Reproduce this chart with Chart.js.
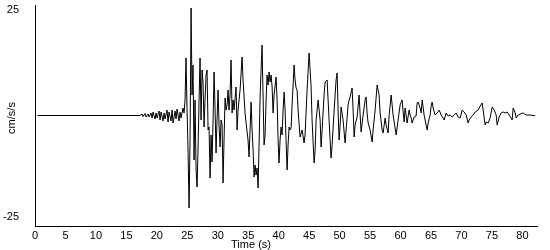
<!DOCTYPE html>
<html>
<head>
<meta charset="utf-8">
<script src="https://cdn.jsdelivr.net/npm/chart.js@4.4.1/dist/chart.umd.min.js"></script>
<style>
  html, body { margin: 0; padding: 0; background: #fff; }
  canvas { display: block; }
</style>
</head>
<body>
<canvas id="quake" width="550" height="250"></canvas>
<script>
// time (s) and acceleration (cm/s/s)
let times = [
  0.4, 17.24, 17.57, 17.73, 18.06, 18.23, 18.55, 18.72, 19.05, 19.21, 19.38, 19.70, 19.87, 20.03, 20.36, 20.53,
  20.69, 21.02, 21.18, 21.35, 21.67, 21.84, 22.00, 22.33, 22.50, 22.66, 22.99, 23.15, 23.32, 23.64, 23.81, 23.97,
  24.30, 24.47, 24.63, 24.79, 24.96, 25.12, 25.29, 25.45, 25.62, 25.78, 25.94, 26.11, 26.27, 26.44, 26.60, 26.76,
  26.93, 27.09, 27.26, 27.42, 27.59, 27.75, 27.91, 28.08, 28.24, 28.41, 28.57, 28.74, 28.90, 29.06, 29.23, 29.39,
  29.56, 29.72, 29.88, 30.05, 30.21, 30.38, 30.54, 30.71, 30.87, 31.03, 31.20, 31.36, 31.53, 31.69, 31.85, 32.02,
  32.18, 32.35, 32.51, 32.68, 33.00, 33.17, 33.33, 33.66, 33.99, 34.15, 34.48, 34.65, 34.97, 35.14, 35.30, 35.47,
  35.63, 35.80, 35.96, 36.12, 36.29, 36.45, 36.62, 36.78, 36.95, 37.11, 37.27, 37.44, 37.60, 37.77, 37.93, 38.09,
  38.26, 38.42, 38.59, 38.75, 38.92, 39.08, 39.24, 39.57, 39.74, 39.90, 40.06, 40.23, 40.39, 40.56, 40.72, 40.89,
  41.05, 41.21, 41.38, 41.54, 41.71, 41.87, 42.04, 42.20, 42.53, 42.69, 42.86, 43.02, 43.18, 43.51, 43.84, 44.17,
  44.33, 44.66, 44.99, 45.16, 45.32, 45.48, 45.81, 45.98, 46.14, 46.47, 46.80, 46.96, 47.13, 47.45, 47.62, 47.95,
  48.11, 48.44, 48.60, 48.77, 49.10, 49.42, 49.59, 49.75, 49.92, 50.08, 50.25, 50.57, 50.90, 51.07, 51.39, 51.56,
  51.72, 52.05, 52.22, 52.38, 52.54, 52.87, 53.20, 53.37, 53.53, 53.86, 54.19, 54.35, 54.51, 54.68, 55.01, 55.34,
  55.50, 55.83, 56.16, 56.48, 56.65, 56.98, 57.14, 57.47, 57.63, 57.96, 58.13, 58.46, 58.62, 58.78, 59.11, 59.28,
  59.60, 59.93, 60.26, 60.43, 60.59, 60.75, 60.92, 61.08, 61.41, 61.58, 61.74, 61.90, 62.23, 62.56, 62.72, 62.89,
  63.22, 63.38, 63.55, 63.87, 64.20, 64.37, 64.53, 64.86, 65.02, 65.19, 65.35, 65.68, 66.01, 66.34, 66.67, 66.99,
  67.16, 67.49, 67.81, 68.14, 68.47, 68.80, 69.13, 69.46, 69.79, 70.11, 70.44, 70.77, 71.10, 71.26, 71.59, 71.92,
  72.25, 72.74, 73.07, 73.40, 73.56, 73.89, 74.05, 74.38, 74.71, 75.04, 75.37, 75.70, 75.86, 76.19, 76.52, 76.85,
  77.17, 77.50, 77.83, 78.16, 78.32, 78.49, 78.82, 78.98, 79.31, 79.64, 80.13, 80.62, 81.28, 81.77, 82.10
];
let accel = [
  0, 0, 0.34, -0.23, 0.45, -0.34, 0.34, -0.34, 0.57, -0.57, 0.79, -0.79, 0.57, -0.57, 1.02, -1.02,
  0.79, -1.24, 0.57, -0.79, 1.24, -1.47, 0.79, -1.24, 1.24, -1.70, 1.02, -0.79, 1.47, -1.24, 0.79, -0.57,
  1.70, 0.57, 3.51, 13.01, 1.24, -7.81, -20.93, -5.54, 24.32, 4.64, 11.43, -10.07, 3.51, -12.33, -16.18, -7.81,
  3.51, 13.01, -1.02, 10.29, 7.35, -2.60, 3.51, 9.16, 10.29, -3.28, -2.60, -14.14, -4.41, -10.52, -1.02, 9.84,
  1.24, -8.48, -1.02, 5.77, -2.15, -7.13, -1.02, -2.15, -15.27, -5.54, 3.96, 1.24, 2.38, 5.77, 1.24, 4.64,
  12.56, 0.57, 3.51, 1.24, 6.45, -3.28, 1.24, 5.77, 13.24, 8.03, 0.57, -1.70, -5.54, -9.39, -3.28, 3.05,
  -3.28, -7.81, -13.91, -11.20, -13.46, -11.88, -16.40, -6.67, 4.19, 10.29, 15.95, 4.19, -6.67, -4.41, 3.51, 9.16,
  6.90, 9.84, 7.58, 9.16, 6.45, 0.57, 4.64, 8.71, 3.51, -5.54, -10.75, -5.54, -2.60, -4.41, 1.24, 5.32,
  1.24, -5.54, -12.33, -6.67, -2.60, -3.28, -2.83, 2.38, 11.43, 8.03, 6.22, 5.77, 1.24, -4.86, -3.28, -6.22,
  -4.41, 5.77, 14.14, 10.29, 6.45, -1.02, -10.75, -7.81, -1.02, 3.51, -1.02, -7.13, -3.28, 4.64, 7.58, 8.03,
  3.51, -5.54, -9.62, -6.67, 1.24, 8.03, 9.62, 1.24, -5.54, -2.15, 1.92, -1.02, -6.22, -3.28, 2.38, 3.51,
  4.19, 6.22, 1.24, -4.86, -2.15, -0.34, 4.64, 0.11, -3.73, 0.11, 3.51, 4.19, 0.57, -1.70, -3.28, -6.00,
  -3.28, 1.24, 6.90, 4.64, 0.57, -3.28, -3.96, -0.57, -2.15, -3.96, 0.11, 4.64, 2.38, 0.11, -2.83, -4.41,
  -1.02, 2.38, 3.51, 0.79, -1.47, 1.70, 0.11, -1.70, 1.24, 0.11, -0.57, -1.70, -0.34, -0.11, 2.83, 3.05,
  1.70, 0.57, 3.51, 0.11, -2.15, -3.28, -1.70, 0.11, 2.15, 3.05, 1.70, 0.11, 0.57, 1.24, 0.11, -0.57,
  -1.02, 0.57, -0.11, 0.11, -0.34, 0.11, 0.57, -0.34, -0.57, 1.24, 0.79, 0.11, -1.70, -1.02, -0.34, 0.11,
  0.79, 1.24, 2.15, 2.83, 1.24, -2.15, -1.47, -1.70, -0.57, 1.92, 1.24, 0.11, -2.15, -0.34, 0.57, 0.79,
  0.57, 0.79, 0.11, -0.57, -1.02, 1.70, 0.57, -0.57, 0.11, 0.34, 0.57, 0.11, 0.11, 0, 0
];
let yTickLabels = ['25', '-25'];
let xTitle = 'Time (s)';
let yTitle = 'cm/s/s';

let points = [];
for (let i = 0; i < times.length; i++) {
    points.push({ x: times[i], y: accel[i] });
}

const FONT = '11px "Liberation Sans", Arial, sans-serif';

// the y labels and axis titles sit off the usual spots, so draw them here
const axisText = {
    id: 'axisText',
    afterDraw(chart) {
        let ctx = chart.ctx;
        let ys = chart.scales.y;
        ctx.save();
        ctx.fillStyle = '#000';
        ctx.font = FONT;
        ctx.textAlign = 'right';
        ctx.textBaseline = 'top';
        ctx.fillText(yTickLabels[0], 19, ys.getPixelForValue(25) - 1);
        ctx.textBaseline = 'bottom';
        ctx.fillText(yTickLabels[1], 19, ys.getPixelForValue(-25) - 4);

        ctx.textAlign = 'center';
        ctx.textBaseline = 'middle';
        ctx.fillText(xTitle, 251, 245);

        ctx.translate(12, 118);
        ctx.rotate(-Math.PI / 2);
        ctx.fillText(yTitle, 0, 0);
        ctx.restore();
    }
};

let ctx = document.getElementById('quake').getContext('2d');
let quakeChart = new Chart(ctx, {
    type: 'line',
    data: {
        datasets: [{
            data: points,
            borderColor: '#000',
            borderWidth: 1,
            pointRadius: 0,
            tension: 0,
            fill: false
        }]
    },
    options: {
        responsive: false,
        animation: false,
        devicePixelRatio: 1,
        layout: { padding: { top: 5, right: 13, left: 0, bottom: 0 } },
        plugins: {
            legend: { display: false },
            tooltip: { enabled: false }
        },
        scales: {
            x: {
                type: 'linear',
                min: 0,
                max: 82.4,
                grid: { display: false, drawTicks: false, tickLength: 0 },
                border: { display: true, color: '#000', width: 1 },
                ticks: {
                    stepSize: 5,
                    includeBounds: false,
                    color: '#000',
                    font: { family: '"Liberation Sans", Arial, sans-serif', size: 11 },
                    padding: 3,
                    maxRotation: 0,
                    autoSkip: false
                },
                afterFit(scale) { scale.height = 24; }
            },
            y: {
                min: -25,
                max: 25,
                grid: { display: false, drawTicks: false, tickLength: 0 },
                border: { display: true, color: '#000', width: 1 },
                ticks: { display: false, stepSize: 50 },
                afterFit(scale) { scale.width = 35; }
            }
        }
    },
    plugins: [axisText]
});
</script>
</body>
</html>
